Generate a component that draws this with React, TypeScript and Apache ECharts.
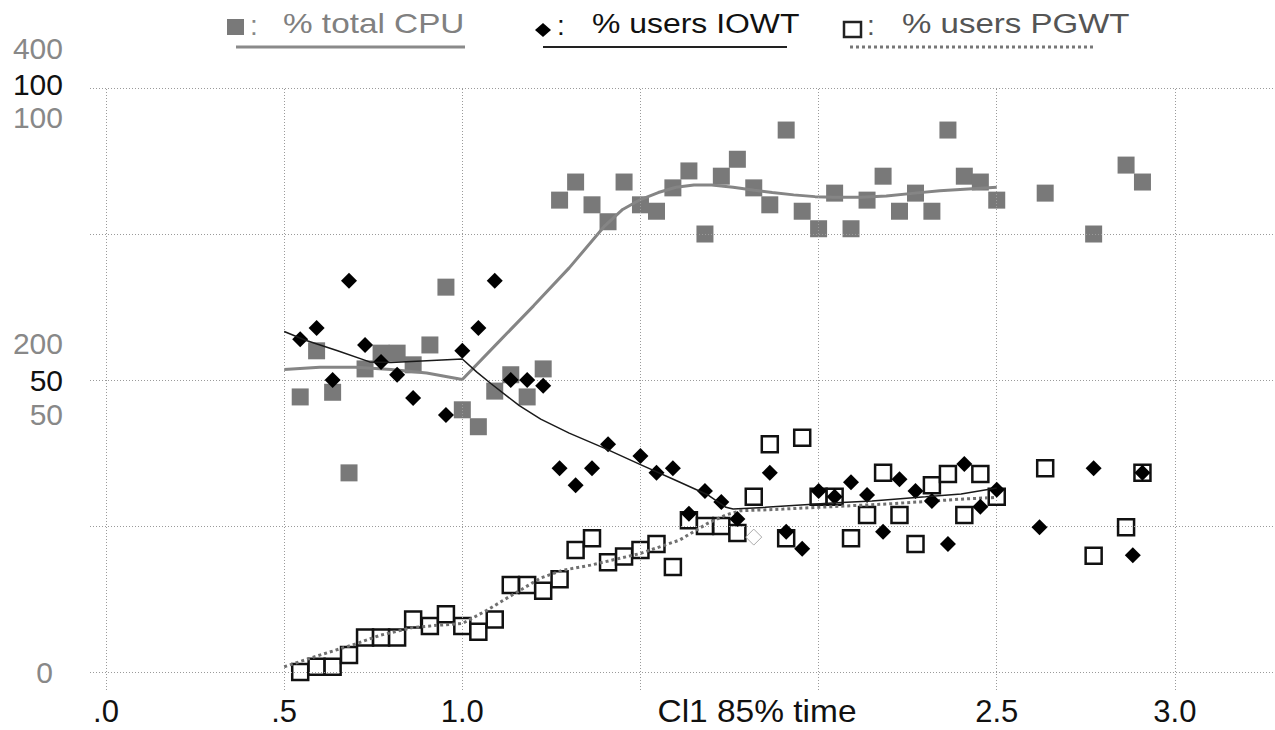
import React, { useEffect, useRef } from "react";
import * as echarts from "echarts";

const FF = "'Liberation Sans', Arial, Helvetica, sans-serif";

// % total CPU (grey filled squares)
const cpuPoints = [
  [0.545, 47.1], [0.591, 55.0], [0.636, 47.9], [0.682, 34.1], [0.727, 51.9], [0.772, 54.6],
  [0.817, 54.6], [0.862, 52.6], [0.909, 56.0], [0.954, 65.9], [1.0, 44.9], [1.045, 42.0],
  [1.091, 48.1], [1.136, 50.9], [1.182, 47.1], [1.227, 51.9], [1.273, 80.8], [1.318, 83.9],
  [1.364, 80.0], [1.409, 77.1], [1.454, 83.9], [1.5, 80.0], [1.545, 78.9], [1.591, 82.9],
  [1.636, 85.8], [1.681, 75.0], [1.727, 84.9], [1.772, 87.8], [1.818, 82.9], [1.863, 80.0],
  [1.909, 92.8], [1.954, 78.9], [2.0, 75.9], [2.045, 82.0], [2.091, 75.9], [2.136, 80.8],
  [2.181, 84.9], [2.227, 78.9], [2.272, 82.0], [2.318, 78.9], [2.363, 92.8], [2.409, 84.9],
  [2.454, 83.9], [2.5, 80.8], [2.636, 82.0], [2.772, 75.0], [2.863, 86.8], [2.909, 83.9],
];

// % users IOWT (black diamonds)
const iowtPoints = [
  [0.545, 57.0], [0.591, 58.9], [0.636, 50.0], [0.682, 67.0], [0.727, 56.0], [0.772, 53.1],
  [0.817, 50.9], [0.862, 46.9], [0.954, 44.0], [1.0, 55.0], [1.045, 58.9], [1.091, 67.0],
  [1.136, 50.0], [1.182, 50.0], [1.227, 49.0], [1.273, 34.9], [1.318, 32.0], [1.364, 34.9],
  [1.409, 39.0], [1.5, 37.0], [1.545, 34.1], [1.591, 34.9], [1.636, 27.1], [1.681, 31.0],
  [1.727, 29.1], [1.772, 26.2], [1.863, 34.1], [1.909, 24.0], [1.954, 21.1], [2.0, 31.0],
  [2.045, 30.0], [2.091, 32.5], [2.136, 30.3], [2.181, 24.0], [2.227, 33.0], [2.272, 31.0],
  [2.318, 29.3], [2.363, 21.9], [2.409, 35.6], [2.454, 28.3], [2.5, 31.2], [2.62, 24.8],
  [2.772, 34.9], [2.882, 20.0], [2.909, 34.1],
];

// single hollow diamond
const hollowDiamond = [[1.818, 23.1]];

// % users PGWT (hollow squares)
const pgwtPoints = [
  [0.545, 0.0], [0.591, 0.9], [0.636, 0.9], [0.682, 2.9], [0.727, 5.9], [0.772, 5.9],
  [0.817, 5.9], [0.862, 9.0], [0.909, 7.9], [0.954, 9.9], [1.0, 7.9], [1.045, 6.9],
  [1.091, 9.0], [1.136, 14.9], [1.182, 14.9], [1.227, 13.9], [1.273, 15.9], [1.318, 20.9],
  [1.364, 22.9], [1.409, 18.8], [1.454, 19.8], [1.5, 20.9], [1.545, 21.9], [1.591, 18.0],
  [1.636, 26.0], [1.681, 25.0], [1.727, 25.0], [1.772, 23.8], [1.818, 30.0], [1.863, 39.0],
  [1.909, 22.9], [1.954, 40.1], [2.0, 30.0], [2.045, 30.0], [2.091, 22.9], [2.136, 26.9],
  [2.181, 34.1], [2.227, 26.9], [2.272, 21.9], [2.318, 32.0], [2.363, 33.9], [2.409, 26.9],
  [2.454, 33.9], [2.5, 30.0], [2.636, 34.9], [2.772, 19.9], [2.863, 24.8], [2.909, 34.1],
];

// fitted trend curves
const cpuTrend = [
  [0.5, 51.8], [0.6, 52.2], [0.7, 52.2], [0.8, 51.8], [0.9, 51.2], [1.0, 50.1],
  [1.1, 56.4], [1.2, 62.7], [1.3, 69.2], [1.4, 76.4], [1.45, 79.2], [1.5, 80.9],
  [1.55, 82.1], [1.6, 83.0], [1.65, 83.4], [1.7, 83.4], [1.76, 83.0], [1.82, 82.5],
  [1.87, 82.1], [1.93, 81.7], [1.99, 81.4], [2.04, 81.3], [2.12, 81.3], [2.19, 81.5],
  [2.27, 82.0], [2.34, 82.4], [2.42, 82.7], [2.5, 83.0],
];
const iowtTrend = [
  [0.5, 58.3], [0.56, 56.8], [0.65, 55.0], [0.74, 53.1], [0.8, 53.0], [0.9, 53.3], [1.0, 53.6],
  [1.04, 51.4], [1.08, 49.4], [1.16, 45.6], [1.22, 43.3], [1.3, 40.9], [1.4, 38.3],
  [1.5, 35.5], [1.6, 32.8], [1.69, 30.3], [1.74, 28.2], [1.76, 27.9], [1.85, 28.2],
  [1.95, 28.6], [2.05, 29.0], [2.15, 29.3], [2.3, 30.0], [2.4, 30.5], [2.5, 31.5],
];
const pgwtTrend = [
  [0.5, 0.9], [0.55, 1.9], [0.6, 2.9], [0.7, 4.8], [0.77, 6.3], [0.86, 7.6], [0.93, 8.0],
  [1.0, 8.3], [1.07, 10.6], [1.14, 13.2], [1.22, 16.1], [1.28, 17.4], [1.36, 18.3],
  [1.5, 20.3], [1.61, 22.6], [1.69, 25.5], [1.74, 26.9], [1.78, 27.6], [1.9, 27.9],
  [2.0, 28.2], [2.1, 28.5], [2.2, 28.8], [2.3, 29.2], [2.4, 29.6], [2.5, 29.9],
];

const xGridValues = [0, 0.5, 1.0, 1.5, 2.0, 2.5, 3.0];
const yGridValues = [0, 25, 50, 75, 100];
const xLabelValues = [0, 0.5, 1.0, 2.5, 3.0];
const yLabelValues = [0, 50, 100];
const xAxisName = "Cl1 85% time";
const extraYLabels = [
  { text: "400", y: 48 },
  { text: "100", y: 117 },
  { text: "200", y: 343 },
  { text: "50", y: 414 },
];

const GREY = "#797979";

export default function App() {
  const ref = useRef<HTMLDivElement>(null);
  useEffect(() => {
    const chart = echarts.init(ref.current!, null, { renderer: "svg" });
    const legendText = (x: number, text: string, color: string, sx: number) => ({
      type: "text",
      x,
      y: 23,
      scaleX: sx,
      style: { text, fill: color, font: `28px ${FF}`, align: "left", verticalAlign: "middle" },
    });
    const colon = (x: number, color: string) => ({
      type: "text",
      x,
      y: 25,
      style: { text: ":", fill: color, font: `28px ${FF}`, align: "left", verticalAlign: "middle" },
    });
    const option: any = {
      animation: false,
      backgroundColor: "#fff",
      grid: { left: 90, right: 0, top: 88, bottom: 40, containLabel: false },
      xAxis: {
        type: "value",
        min: -0.045,
        max: 3.281,
        axisLine: { show: false },
        axisTick: { show: false },
        splitLine: { show: false },
        axisLabel: {
          customValues: xLabelValues,
          formatter: (v: number) => (v === 0 ? ".0" : v === 0.5 ? ".5" : v.toFixed(1)),
          color: "#111",
          fontSize: 31,
          fontFamily: FF,
          margin: 21,
          verticalAlign: "middle",
        },
      },
      yAxis: {
        type: "value",
        min: -3.08,
        max: 100,
        axisLine: { show: false },
        axisTick: { show: false },
        splitLine: { show: false },
        axisLabel: {
          customValues: yLabelValues,
          margin: 27,
          formatter: (v: number) => (v === 0 ? "{g|0}" : v === 50 ? "{b|50}" : "{t|100}"),
          rich: {
            g: { color: "#888", fontSize: 30, fontFamily: FF, padding: [0, 10, 0, 0] },
            b: { color: "#111", fontSize: 30, fontFamily: FF },
            t: { color: "#111", fontSize: 30, fontFamily: FF, padding: [0, 0, 8, 0] },
          },
        },
      },
      graphic: [
        { type: "rect", shape: { x: 227, y: 19, width: 17, height: 16 }, style: { fill: GREY } },
        colon(250, "#888"),
        legendText(283, "% total CPU", "#808080", 1.19),
        { type: "line", shape: { x1: 236, y1: 47, x2: 465, y2: 47 }, style: { stroke: "#8a8a8a", lineWidth: 3 } },
        { type: "polygon", shape: { points: [[543, 23], [551, 30], [543, 37], [535, 30]] }, style: { fill: "#000" } },
        colon(557, "#111"),
        legendText(592, "% users IOWT", "#111", 1.14),
        { type: "line", shape: { x1: 543, y1: 47, x2: 787, y2: 47 }, style: { stroke: "#222", lineWidth: 2 } },
        { type: "rect", shape: { x: 844, y: 22, width: 17, height: 15 }, style: { fill: "#fff", stroke: "#222", lineWidth: 2.5 } },
        colon(867, "#555"),
        legendText(902, "% users PGWT", "#555", 1.18),
        { type: "line", shape: { x1: 850, y1: 47, x2: 1093, y2: 47 }, style: { stroke: "#777", lineWidth: 3, lineDash: [3, 3] } },
        ...extraYLabels.map((l) => ({
          type: "text",
          x: 63,
          y: l.y,
          style: { text: l.text, fill: "#888", font: `30px ${FF}`, align: "right", verticalAlign: "middle" },
        })),
        {
          type: "text",
          x: 757,
          y: 711,
          scaleX: 1.08,
          style: { text: xAxisName, fill: "#111", font: `31px ${FF}`, align: "center", verticalAlign: "middle" },
        },
      ],
      series: [
        {
          type: "scatter",
          data: [],
          z: 1,
          silent: true,
          markLine: {
            silent: true,
            symbol: "none",
            label: { show: false },
            lineStyle: { color: "#9a9a9a", width: 1, type: [1, 2] },
            emphasis: { disabled: true },
            data: [
              ...xGridValues.map((v) => ({ xAxis: v })),
              ...yGridValues.map((v) => ({ yAxis: v })),
            ],
          },
        },
        {
          name: "% total CPU",
          type: "scatter",
          data: cpuPoints,
          symbol: "rect",
          symbolSize: 17,
          itemStyle: { color: GREY, opacity: 1 },
          z: 2,
        },
        {
          type: "line",
          data: cpuTrend,
          showSymbol: false,
          lineStyle: { color: "#858585", width: 3 },
          z: 3,
        },
        {
          name: "% users PGWT",
          type: "scatter",
          data: pgwtPoints,
          symbol: "rect",
          symbolSize: 16,
          itemStyle: { color: "#fff", borderColor: "#111", borderWidth: 2.5, opacity: 1 },
          z: 4,
        },
        {
          type: "line",
          data: pgwtTrend,
          showSymbol: false,
          lineStyle: { color: "#707070", width: 3, type: [3, 3] },
          z: 5,
        },
        {
          name: "% users IOWT",
          type: "scatter",
          data: iowtPoints,
          symbol: "diamond",
          symbolSize: 16,
          itemStyle: { color: "#000", opacity: 1 },
          z: 6,
        },
        {
          type: "scatter",
          data: hollowDiamond,
          symbol: "diamond",
          symbolSize: 16,
          itemStyle: { color: "#fff", borderColor: "#aaa", borderWidth: 1, opacity: 1 },
          z: 6,
        },
        {
          type: "line",
          data: iowtTrend,
          showSymbol: false,
          lineStyle: { color: "#1a1a1a", width: 1.5 },
          z: 7,
        },
      ],
    };
    chart.setOption(option);
    return () => chart.dispose();
  }, []);
  return (
    <div
      ref={ref}
      style={{ position: "fixed", left: 0, top: 0, width: 1275, height: 730, background: "#fff" }}
    />
  );
}
